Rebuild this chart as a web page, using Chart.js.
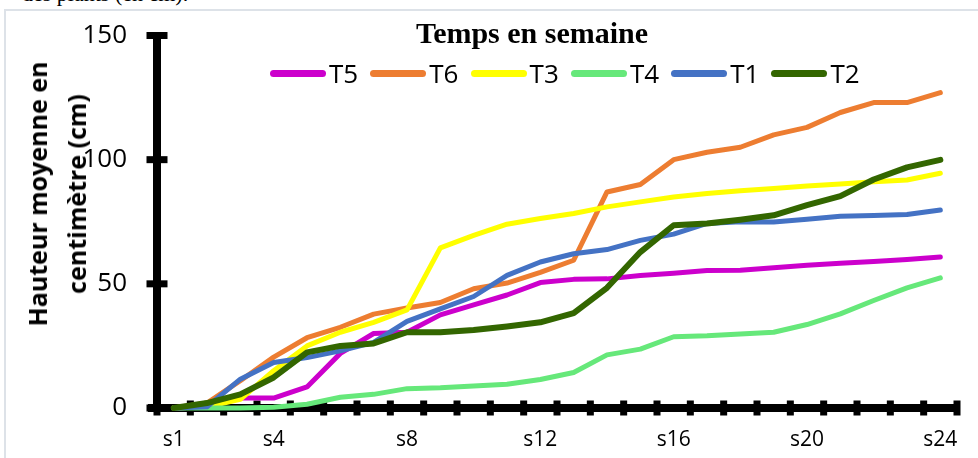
<!DOCTYPE html>
<html>
<head>
<meta charset="utf-8">
<script src="https://cdn.jsdelivr.net/npm/chart.js@4.4.1/dist/chart.umd.min.js"></script>
<style>
  body { margin: 0; background: #fff; width: 978px; height: 458px; overflow: hidden; position: relative; font-family: 'Open Sans', sans-serif; }
  #cadre { position: absolute; left: 4px; top: 9px; width: 1000px; height: 500px; border-left: 2px solid #dde2e8; border-top: 2px solid #dde2e8; }
  #texteHaut { position: absolute; left: 22px; top: -19px; font: 22px 'Liberation Serif', serif; white-space: nowrap; }
  #graphe { position: absolute; left: 0; top: 0; }
  #titre { position: absolute; left: 532px; top: 33px; transform: translate(-50%, -50%); font: bold 30px 'Liberation Serif', serif; white-space: nowrap; }
  #legende { position: absolute; left: 270px; top: 73px; transform: translateY(-50%); display: flex; }
  .item { display: flex; align-items: center; width: 100.3px; }
  .trait { width: 56px; height: 7px; border-radius: 4px; margin-right: 3px; }
  .txt { font-size: 26px; color: #000; }
  #titreY { position: absolute; left: 57px; top: 194px; transform: translate(-50%, -50%) rotate(-90deg); font: bold 25px 'Open Sans', sans-serif; text-align: center; line-height: 39px; white-space: nowrap; }
</style>
</head>
<body>
<div id="cadre"></div>
<div id="texteHaut">des plants (en cm).</div>
<canvas id="graphe" width="978" height="458"></canvas>
<div id="titre">Temps en semaine</div>
<div id="legende"></div>
<div id="titreY">Hauteur moyenne en<br>centimètre (cm)</div>

<script>
// semaines s1 ... s24
const semaines = ['s1', 's2', 's3', 's4', 's5', 's6', 's7', 's8', 's9', 's10', 's11', 's12',
    's13', 's14', 's15', 's16', 's17', 's18', 's19', 's20', 's21', 's22', 's23', 's24'];

// hauteurs moyennes (cm)
const t5 = [0, 0.5, 4, 4, 8.5, 22, 30, 30.5, 37.5, 41.5, 45.5, 50.5, 51.8, 52, 53.4, 54.3, 55.4, 55.5, 56.5, 57.5, 58.3, 59, 59.8, 60.8];
const t6 = [0, 2, 11, 20.5, 28.3, 32.5, 37.8, 40.3, 42.5, 48, 50.3, 54.6, 59.5, 87, 90, 100, 103, 105, 110, 113, 119, 123, 123, 127];
const t3 = [0, 0.5, 3.5, 15, 25, 30.5, 34.5, 39.5, 64.5, 69.5, 74, 76.3, 78.3, 81, 83, 85, 86.4, 87.5, 88.4, 89.4, 90.2, 91.1, 91.8, 94.5];
const t4 = [0, 0, 0, 0.3, 1.5, 4.3, 5.5, 7.8, 8.2, 8.9, 9.6, 11.5, 14.3, 21.4, 23.7, 28.7, 29.1, 29.8, 30.5, 33.6, 37.9, 43.3, 48.4, 52.4];
const t1 = [0, 0.5, 11.6, 18.3, 20.3, 23, 26.4, 34.9, 39.9, 44.9, 53.4, 58.8, 62.1, 63.8, 67.5, 70, 74.3, 75, 74.9, 76, 77.2, 77.5, 77.9, 79.7];
const t2 = [0, 2, 5.5, 12.3, 22.4, 25, 26, 30.5, 30.5, 31.4, 32.8, 34.5, 38.2, 48.4, 62.8, 73.6, 74.3, 75.8, 77.6, 81.7, 85.3, 92, 96.9, 99.9];

const graduationsY = [0, 50, 100, 150];

const series = [
    { nom: 'T5', valeurs: t5, couleur: '#CC00CC' },
    { nom: 'T6', valeurs: t6, couleur: '#ED7D31' },
    { nom: 'T3', valeurs: t3, couleur: '#FFFF00' },
    { nom: 'T4', valeurs: t4, couleur: '#66E87A' },
    { nom: 'T1', valeurs: t1, couleur: '#4472C4' },
    { nom: 'T2', valeurs: t2, couleur: '#336600' }
];

// axes noirs épais avec petites marques carrées (dessinés sous les courbes)
const axesNoirs = {
    id: 'axesNoirs',
    beforeDatasetsDraw(chart) {
        const { ctx, chartArea, scales: { x, y } } = chart;
        ctx.save();
        ctx.fillStyle = '#000';

        // axe vertical
        ctx.fillRect(chartArea.left - 4, chartArea.top - 3, 8, chartArea.bottom - chartArea.top + 6);
        graduationsY.forEach(v => {
            const py = y.getPixelForValue(v);
            ctx.fillRect(chartArea.left - 10.5, py - 3.5, 21, 7);
        });

        // axe horizontal
        ctx.fillRect(chartArea.left - 9, chartArea.bottom - 4, chartArea.right - chartArea.left + 12, 8);
        const pas = x.getPixelForValue(1) - x.getPixelForValue(0);
        for (let i = 0; i <= semaines.length; i++) {
            const px = x.getPixelForValue(i) - pas / 2;
            ctx.fillRect(px - 3.5, chartArea.bottom - 7.5, 7, 15);
        }
        ctx.restore();
    }
};

const ctx = document.getElementById('graphe').getContext('2d');

new Chart(ctx, {
    type: 'line',
    data: {
        labels: semaines,
        datasets: series.map((s, i) => ({
            label: s.nom,
            data: s.valeurs,
            borderColor: s.couleur,
            backgroundColor: s.couleur,
            borderWidth: s.nom === 'T2' ? 6 : 5,
            pointRadius: 0,
            tension: 0,
            borderCapStyle: 'round',
            borderJoinStyle: 'round',
            clip: false,
            order: series.length - i
        }))
    },
    options: {
        responsive: false,
        devicePixelRatio: 1,
        animation: false,
        layout: {
            padding: { top: 35.5, right: 21, left: 0, bottom: 0 }
        },
        scales: {
            x: {
                type: 'category',
                offset: true,
                grid: { display: false, drawTicks: false },
                border: { display: false },
                ticks: {
                    autoSkip: false,
                    maxRotation: 0,
                    padding: 19,
                    color: '#000',
                    font: { family: 'Open Sans', size: 21 },
                    callback: function (valeur, index) {
                        // seules quelques semaines sont étiquetées
                        if (index === 0 || (index + 1) % 4 === 0) {
                            return this.getLabelForValue(valeur);
                        }
                        return '';
                    }
                },
                afterFit(scale) { scale.height = 50; }
            },
            y: {
                min: 0,
                max: 150,
                grid: { display: false, drawTicks: false },
                border: { display: false },
                ticks: {
                    stepSize: 50,
                    padding: 30,
                    color: '#000',
                    // petite hauteur de ligne pour ne pas repousser le haut du graphe
                    font: { family: 'Open Sans', size: 26, lineHeight: 0.4 }
                },
                afterFit(scale) { scale.width = 157; }
            }
        },
        plugins: {
            legend: { display: false },
            title: { display: false },
            tooltip: { enabled: false }
        }
    },
    plugins: [axesNoirs]
});

// légende HTML à partir des séries
const legende = document.getElementById('legende');
series.forEach(s => {
    const item = document.createElement('div');
    item.className = 'item';
    item.innerHTML = `<span class="trait" style="background:${s.couleur}"></span><span class="txt">${s.nom}</span>`;
    legende.appendChild(item);
});
</script>
</body>
</html>
